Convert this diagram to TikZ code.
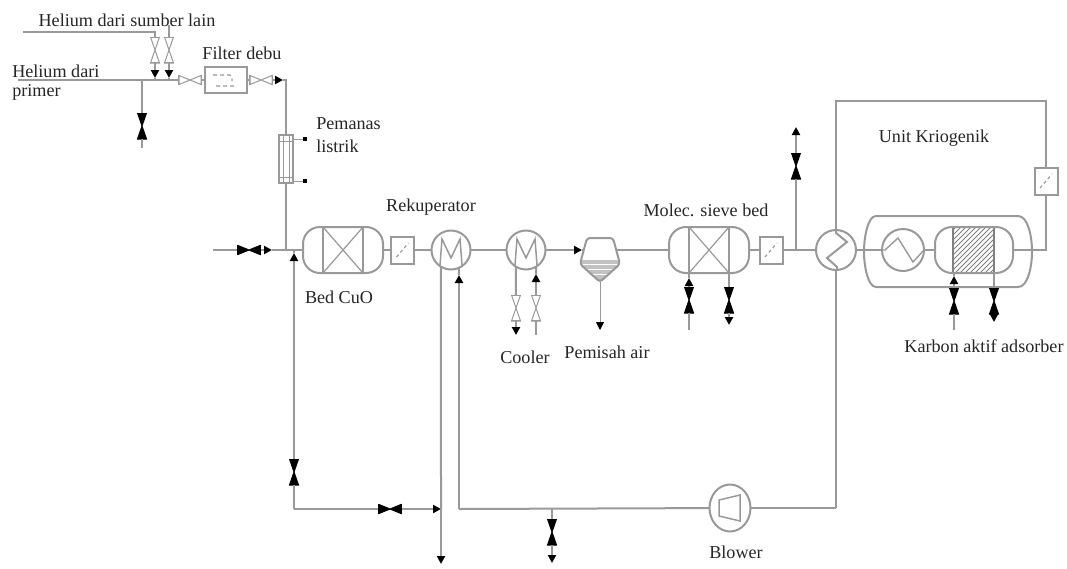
\documentclass[tikz,border=0pt]{standalone}
\usepackage{fontspec}
\setmainfont{Liberation Serif}
\usetikzlibrary{arrows.meta,shapes.geometric}
\definecolor{pipegray}{gray}{0.6}
\definecolor{ink}{gray}{0.15}
\newdimen\px \px=0.75pt
\tikzset{
  pipe/.style={draw=pipegray,line width=2\px},
  flow/.style={-{Triangle[black,length=6pt,width=6pt]}},
  lbl/.style={text=ink,font=\fontsize{13.6pt}{16pt}\selectfont,inner sep=0pt},
  base/.style={inner sep=0pt,outer sep=0pt},
  outline/.style={base,draw=pipegray,line width=2\px},
  here/.style={shift={(path picture bounding box.center)},sharp corners},
  vbow/.style 2 args={base,minimum width=11\px,minimum height=26\px,path picture={
    \begin{scope}[here]
      \filldraw[#1,line width=1\px] (-4.5,-13)--(4.5,-13)--(0,0)--cycle (-4.5,13)--(4.5,13)--(0,0)--cycle;
      \draw[#2,line width=1.5\px] (-5,-12.5)--(5,-12.5) (-5,12.5)--(5,12.5);
    \end{scope}}},
  hbow/.style 2 args={base,minimum width=24\px,minimum height=11\px,path picture={
    \begin{scope}[here]
      \filldraw[#1,line width=1\px] (-11,-4.5)--(-11,4.5)--(0,0)--cycle (11,-4.5)--(11,4.5)--(0,0)--cycle;
      \draw[#2,line width=1.5\px] (-11.5,-5)--(-11.5,5) (11.5,-5)--(11.5,5);
    \end{scope}}},
  vopen/.style={vbow={fill=white,draw=pipegray}{pipegray}},
  vshut/.style={vbow={fill=black,draw=black}{black}},
  hopen/.style={hbow={fill=white,draw=pipegray}{pipegray}},
  hshut/.style={hbow={fill=black,draw=black}{black}},
  cross bed/.style={outline,rounded corners=17\px,minimum width=80\px,minimum height=46\px,path picture={
    \begin{scope}[here]
      \draw[pipegray,line width=2\px] (-20,-23)--(-20,23) (20,-23)--(20,23);
      \draw[pipegray,line width=1.2\px] (-20,-23)--(20,23) (-20,23)--(20,-23);
    \end{scope}}},
  hatch bed/.style={outline,rounded corners=17\px,minimum width=78\px,minimum height=46\px,path picture={
    \begin{scope}[here]
      \begin{scope}
        \clip (-21,-23) rectangle (20,23);
        \foreach \k in {-66,-61,...,66}{\draw[gray,line width=.8\px] (\k-23,23)--(\k+23,-23);}
      \end{scope}
      \draw[gray,line width=2\px] (-21,-23)--(-21,23) (20,-23)--(20,23);
    \end{scope}}},
  diag box/.style={outline,minimum width=23\px,minimum height=27\px,path picture={
    \begin{scope}[here]
      \draw[pipegray,line width=1.2\px,dash pattern=on 3\px off 3\px] (-6,7)--(6,-7);
    \end{scope}}},
  m hx/.style={outline,circle,minimum size=39\px,path picture={
    \begin{scope}[here]
      \draw[pipegray,line width=1.5\px] (-11,15)--(-9,-11)--(0,8)--(9,-11)--(11,15);
    \end{scope}}},
  zig hx/.style={outline,circle,minimum size=40\px,path picture={
    \begin{scope}[here]
      \draw[pipegray,line width=2\px] (0,-20)--(0,-17)--(11,-8)--(-9,8)--(1,17)--(1,20);
    \end{scope}}},
  zag hx/.style={outline,circle,minimum size=42\px,path picture={
    \begin{scope}[here]
      \draw[pipegray,line width=1.4\px] (-21,0)--(-18,0)--(-5,-12)--(10,12)--(21,0);
    \end{scope}}},
  filter box/.style={outline,minimum width=42\px,minimum height=26\px,path picture={
    \begin{scope}[here]
      \draw[pipegray,line width=1.2\px,dash pattern=on 4\px off 3\px] (-13,-5)--(4,-5)--(6,-1)--(6,1) (-10,6)--(10,6);
    \end{scope}}},
  heater/.style={outline,minimum width=14\px,minimum height=48\px,path picture={
    \begin{scope}[here]
      \draw[pipegray,line width=.8\px] (-3,-24)--(-3,24) (3,-24)--(3,24);
      \draw[pipegray,line width=.8\px] (-7,-18)--(7,-18) (-7,18)--(7,18);
    \end{scope}}},
  term/.style={base,fill=black,minimum size=4\px},
  blower/.style={outline,ellipse,minimum width=41\px,minimum height=47\px,path picture={
    \begin{scope}[here]
      \draw[pipegray,line width=1.5\px] (-11,-8)--(10,-13)--(10,13)--(-11,8)--cycle;
    \end{scope}}},
  separator/.style={base,minimum width=44\px,minimum height=48\px,path picture={
    \begin{scope}[here]
      \fill[pipegray!60] (-19,0)--(19,0)--(20,4)--(0,22)--(-20,4)--cycle;
      \draw[white,line width=.8\px] (-18,4)--(18,4) (-14,9)--(14,9) (-9,14)--(9,14);
      \draw[pipegray,line width=2\px,rounded corners=3\px] (-13,-22)--(13,-22)--(20,4)--(0,22)--(-20,4)--cycle;
    \end{scope}}},
  cold box/.style={base,minimum width=172\px,minimum height=75\px,path picture={
    \begin{scope}[here]
      \draw[pipegray,line width=2\px] (-72,-35.5)--(70,-35.5) .. controls (80,-35.5) and (84,-15) .. (84,0)
        .. controls (84,15) and (80,35.5) .. (70,35.5) -- (-72,35.5)
        .. controls (-80,35.5) and (-84,15) .. (-84,0) .. controls (-84,-15) and (-80,-35.5) .. (-72,-35.5);
    \end{scope}}},
}
\begin{document}
\begin{tikzpicture}[x=0.75pt,y=-0.75pt]
\useasboundingbox[fill=white] (0,0) rectangle (1067,568);

% junctions and free ends
\coordinate (src1) at (23,32);
\coordinate (c1) at (155,32);
\coordinate (a1) at (155,78);
\coordinate (j1) at (155,80);
\coordinate (src2) at (169,25);
\coordinate (a2) at (169,78);
\coordinate (j2) at (169,80);
\coordinate (prim) at (18,80);
\coordinate (j0) at (142,80);
\coordinate (drain0) at (142,148);
\coordinate (a3) at (283,80);
\coordinate (c3) at (286,80);
\coordinate (feed) at (213,250);
\coordinate (a4) at (272,250);
\coordinate (j4) at (286,250);
\coordinate (a5) at (294,253);
\coordinate (j5) at (294,250);
\coordinate (c5) at (294,509);
\coordinate (a6) at (441,509);
\coordinate (end6) at (441,564);
\coordinate (a7) at (459,275);
\coordinate (c7) at (459,509);
\coordinate (j8) at (552,509);
\coordinate (a8) at (552,563);
\coordinate (c9) at (836,508);
\coordinate (a10) at (516,335);
\coordinate (a11) at (536,274);
\coordinate (end11) at (536,335);
\coordinate (a12) at (582,250);
\coordinate (sepin) at (584,250);
\coordinate (sepout) at (616,250);
\coordinate (sepdrain) at (600,282);
\coordinate (a13) at (600,330);
\coordinate (sb1) at (689,273);
\coordinate (a14) at (689,278);
\coordinate (end14) at (689,330);
\coordinate (sb2) at (729,273);
\coordinate (a15) at (729,325);
\coordinate (j16) at (796,250);
\coordinate (a16) at (796,127);
\coordinate (ab1) at (954,273);
\coordinate (a17) at (954,276);
\coordinate (end17) at (954,330);
\coordinate (ab2) at (994,273);
\coordinate (a18) at (994,322);
\coordinate (c19) at (1046,250);
\coordinate (c20) at (1046,101);
\coordinate (c21) at (836,101);
\coordinate (a21) at (836,226);

% equipment
\node[cold box] (cold) at (948,251.5) {};
\node[vopen] (v1) at (155,50) {};
\node[vopen] (v2) at (169,50) {};
\node[vshut] (v0) at (142,126) {};
\node[hopen] (v3) at (190,80) {};
\node[filter box] (filter) at (226,80) {};
\node[hopen] (v4) at (261,80) {};
\node[heater] (heat) at (286,159) {};
\node[term] (t1) at (305,139) {};
\node[term] (t2) at (305,181) {};
\node[hshut] (v5) at (249,250) {};
\node[cross bed] (cuo) at (343,250) {};
\node[diag box] (box1) at (402.5,250) {};
\node[m hx] (reku) at (451,250) {};
\node[m hx] (cool) at (526,250) {};
\node[vopen] (v6) at (516,308) {};
\node[vopen] (v7) at (536,308) {};
\node[separator] (sep) at (600,260) {};
\node[cross bed] (sieve) at (709,250) {};
\node[vshut] (v8) at (689,300) {};
\node[vshut] (v9) at (729,300) {};
\node[diag box] (box2) at (771,250) {};
\node[vshut] (v10) at (796,166) {};
\node[zig hx] (hx) at (836,250) {};
\node[zag hx] (cryo) at (903,250) {};
\node[hatch bed] (ads) at (974,250) {};
\node[vshut] (v11) at (954,301) {};
\node[vshut] (v12) at (994,301) {};
\node[diag box] (box3) at (1046,181) {};
\node[vshut] (v13) at (294,472) {};
\node[hshut] (v14) at (390,509) {};
\node[vshut] (v15) at (552,532) {};
\node[blower] (blow) at (730,508) {};

% connectors
\draw[pipe] (src1) -- (c1) -- (v1);
\draw[pipe,flow] (v1) -- (a1);
\draw[pipe] (a1) -- (j1);
\draw[pipe] (src2) -- (v2);
\draw[pipe,flow] (v2) -- (a2);
\draw[pipe] (a2) -- (j2);
\draw[pipe] (prim) -- (v3);
\draw[pipe] (j0) -- (v0);
\draw[pipe] (v0) -- (drain0);
\draw[pipe] (v3) -- (filter);
\draw[pipe] (filter) -- (v4);
\draw[pipe,flow] (v4) -- (a3);
\draw[pipe] (a3) -- (c3) -- (heat);
\draw[pipe] (heat) -- (j4);
\draw[pipe,line width=1\px] (t1) -- (t1 -| heat.east);
\draw[pipe,line width=1\px] (t2) -- (t2 -| heat.east);
\draw[pipe] (feed) -- (v5);
\draw[pipe,flow] (v5) -- (a4);
\draw[pipe] (a4) -- (cuo);
\draw[pipe,flow] (v13) -- (a5);
\draw[pipe] (a5) -- (j5);
\draw[pipe] (v13) -- (c5);
\draw[pipe] (c5) -- (v14);
\draw[pipe,flow] (v14) -- (a6);
\draw[pipe] (reku.-121) -- (a6);
\draw[pipe,flow] (a6) -- (end6);
\draw[pipe] (cuo) -- (box1);
\draw[pipe] (box1) -- (reku);
\draw[pipe] (reku) -- (cool);
\draw[pipe,flow] (cool) -- (a12);
\draw[pipe] (a12) -- (sepin);
\draw[pipe] (sepout) -- (sieve);
\draw[pipe,flow] (c7) -- (a7);
\draw[pipe] (a7) -- (reku.-66);
\draw[pipe] (c7) -- (blow);
\draw[pipe] (blow) -- (c9);
\draw[pipe] (c9) -- (hx);
\draw[pipe] (j8) -- (v15);
\draw[pipe,flow] (v15) -- (a8);
\draw[pipe] (cool.-121) -- (v6);
\draw[pipe,flow] (v6) -- (a10);
\draw[pipe] (end11) -- (v7);
\draw[pipe,flow] (v7) -- (a11);
\draw[pipe] (a11) -- (cool.-59);
\draw[pipe,line width=1\px,flow] (sepdrain) -- (a13);
\draw[pipe] (sieve) -- (box2);
\draw[pipe] (box2) -- (hx);
\draw[pipe] (j16) -- (v10);
\draw[pipe,flow] (v10) -- (a16);
\draw[pipe,flow] (v8) -- (a14);
\draw[pipe] (a14) -- (sb1);
\draw[pipe] (v8) -- (end14);
\draw[pipe] (sb2) -- (v9);
\draw[pipe,flow] (v9) -- (a15);
\draw[pipe] (hx) -- (cryo);
\draw[pipe] (cryo) -- (ads);
\draw[pipe] (ads) -- (c19) -- (box3);
\draw[pipe,flow] (v11) -- (a17);
\draw[pipe] (a17) -- (ab1);
\draw[pipe] (v11) -- (end17);
\draw[pipe] (ab2) -- (v12);
\draw[pipe,flow] (v12) -- (a18);
\draw[pipe] (box3) -- (c20) -- (c21) -- (a21);
\draw[pipe] (a21) -- (hx);

% labels
\node[lbl] (l1) at (127,20) {Helium dari sumber lain};
\node[lbl,anchor=west] (l2) at (12,71) {Helium dari};
\node[lbl,anchor=west] (l3) at (12,92) {primer};
\node[lbl] (l4) at (242,53) {Filter debu};
\node[lbl,anchor=west] (l5) at (316,124) {Pemanas};
\node[lbl,anchor=west] (l6) at (316,146) {listrik};
\node[lbl] (l7) at (431,207) {Rekuperator};
\node[lbl] (l8) at (339,297) {Bed CuO};
\node[lbl] (l9) at (525,357) {Cooler};
\node[lbl] (l10) at (607,352) {Pemisah air};
\node[lbl] (l11) at (706,210) {Molec. sieve bed};
\node[lbl] (l12) at (934,138) {Unit Kriogenik};
\node[lbl] (l13) at (984,346) {Karbon aktif adsorber};
\node[lbl] (l14) at (736,552) {Blower};
\end{tikzpicture}
\end{document}
